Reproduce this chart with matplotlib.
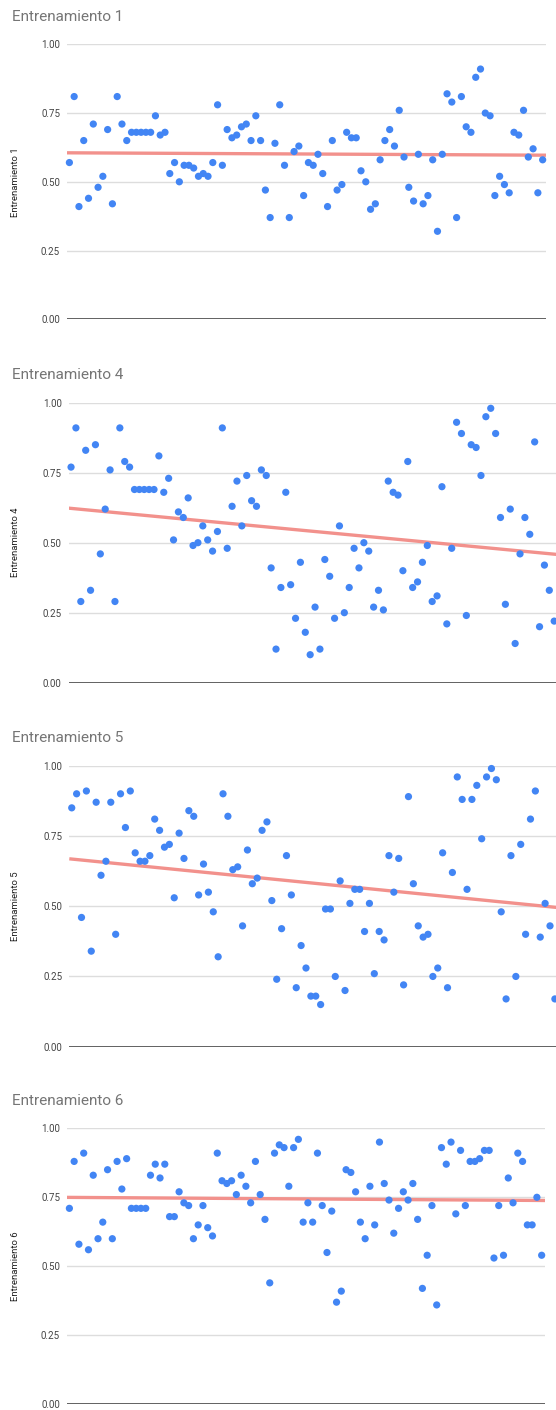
import numpy as np
import matplotlib
matplotlib.use("Agg")
import matplotlib.pyplot as plt

plt.rcParams['font.family'] = ['Roboto', 'DejaVu Sans']

# one reading per session, 100 sessions per training block
entrenamiento_1 = [
    0.57, 0.81, 0.41, 0.65, 0.44, 0.71, 0.48, 0.52, 0.69, 0.42,
    0.81, 0.71, 0.65, 0.68, 0.68, 0.68, 0.68, 0.68, 0.74, 0.67,
    0.68, 0.53, 0.57, 0.50, 0.56, 0.56, 0.55, 0.52, 0.53, 0.52,
    0.57, 0.78, 0.56, 0.69, 0.66, 0.67, 0.70, 0.71, 0.65, 0.74,
    0.65, 0.47, 0.37, 0.64, 0.78, 0.56, 0.37, 0.61, 0.63, 0.45,
    0.57, 0.56, 0.60, 0.53, 0.41, 0.65, 0.47, 0.49, 0.68, 0.66,
    0.66, 0.54, 0.50, 0.40, 0.42, 0.58, 0.65, 0.69, 0.63, 0.76,
    0.59, 0.48, 0.43, 0.60, 0.42, 0.45, 0.58, 0.32, 0.60, 0.82,
    0.79, 0.37, 0.81, 0.70, 0.68, 0.88, 0.91, 0.75, 0.74, 0.45,
    0.52, 0.49, 0.46, 0.68, 0.67, 0.76, 0.59, 0.62, 0.46, 0.58,
]
entrenamiento_4 = [
    0.77, 0.91, 0.29, 0.83, 0.33, 0.85, 0.46, 0.62, 0.76, 0.29,
    0.91, 0.79, 0.77, 0.69, 0.69, 0.69, 0.69, 0.69, 0.81, 0.68,
    0.73, 0.51, 0.61, 0.59, 0.66, 0.49, 0.50, 0.56, 0.51, 0.47,
    0.54, 0.91, 0.48, 0.63, 0.72, 0.56, 0.74, 0.65, 0.63, 0.76,
    0.74, 0.41, 0.12, 0.34, 0.68, 0.35, 0.23, 0.43, 0.18, 0.10,
    0.27, 0.12, 0.44, 0.38, 0.23, 0.56, 0.25, 0.34, 0.48, 0.41,
    0.50, 0.47, 0.27, 0.33, 0.26, 0.72, 0.68, 0.67, 0.40, 0.79,
    0.34, 0.36, 0.43, 0.49, 0.29, 0.31, 0.70, 0.21, 0.48, 0.93,
    0.89, 0.24, 0.85, 0.84, 0.74, 0.95, 0.98, 0.89, 0.59, 0.28,
    0.62, 0.14, 0.46, 0.59, 0.53, 0.86, 0.20, 0.42, 0.33, 0.22,
]
entrenamiento_5 = [
    0.85, 0.90, 0.46, 0.91, 0.34, 0.87, 0.61, 0.66, 0.87, 0.40,
    0.90, 0.78, 0.91, 0.69, 0.66, 0.66, 0.68, 0.81, 0.77, 0.71,
    0.72, 0.53, 0.76, 0.67, 0.84, 0.82, 0.54, 0.65, 0.55, 0.48,
    0.32, 0.90, 0.82, 0.63, 0.64, 0.43, 0.70, 0.58, 0.60, 0.77,
    0.80, 0.52, 0.24, 0.42, 0.68, 0.54, 0.21, 0.36, 0.28, 0.18,
    0.18, 0.15, 0.49, 0.49, 0.25, 0.59, 0.20, 0.51, 0.56, 0.56,
    0.41, 0.51, 0.26, 0.41, 0.38, 0.68, 0.55, 0.67, 0.22, 0.89,
    0.58, 0.43, 0.39, 0.40, 0.25, 0.28, 0.69, 0.21, 0.62, 0.96,
    0.88, 0.56, 0.88, 0.93, 0.74, 0.96, 0.99, 0.95, 0.48, 0.17,
    0.68, 0.25, 0.72, 0.40, 0.81, 0.91, 0.39, 0.51, 0.43, 0.17,
]
entrenamiento_6 = [
    0.71, 0.88, 0.58, 0.91, 0.56, 0.83, 0.60, 0.66, 0.85, 0.60,
    0.88, 0.78, 0.89, 0.71, 0.71, 0.71, 0.71, 0.83, 0.87, 0.82,
    0.87, 0.68, 0.68, 0.77, 0.73, 0.72, 0.60, 0.65, 0.72, 0.64,
    0.61, 0.91, 0.81, 0.80, 0.81, 0.76, 0.83, 0.79, 0.73, 0.88,
    0.76, 0.67, 0.44, 0.91, 0.94, 0.93, 0.79, 0.93, 0.96, 0.66,
    0.73, 0.66, 0.91, 0.72, 0.55, 0.70, 0.37, 0.41, 0.85, 0.84,
    0.77, 0.66, 0.60, 0.79, 0.65, 0.95, 0.80, 0.74, 0.62, 0.71,
    0.77, 0.74, 0.80, 0.67, 0.42, 0.54, 0.72, 0.36, 0.93, 0.87,
    0.95, 0.69, 0.92, 0.72, 0.88, 0.88, 0.89, 0.92, 0.92, 0.53,
    0.72, 0.54, 0.82, 0.73, 0.91, 0.88, 0.65, 0.65, 0.75, 0.54,
]

titles = ["Entrenamiento 1", "Entrenamiento 4", "Entrenamiento 5", "Entrenamiento 6"]
series = [entrenamiento_1, entrenamiento_4, entrenamiento_5, entrenamiento_6]
yticks = [0.0, 0.25, 0.5, 0.75, 1.0]

W, H = 556, 1410
# axes boxes in pixels: left, top (1.00 line), width, height
boxes = [
    (67.0, 44.3, 479.0, 275.0),
    (68.6, 402.7, 489.0, 280.0),
    (69.3, 765.7, 489.0, 281.0),
    (67.0, 1128.3, 478.0, 276.0),
]
title_y = [17, 375, 738, 1101]

BLUE = "#4285f4"
TREND = "#f2918c"

fig = plt.figure(figsize=(W / 100, H / 100), dpi=100)

for name, vals, (l, t, w, h), ty in zip(titles, series, boxes, title_y):
    y = np.array(vals)
    x = np.arange(1, len(y) + 1)
    ax = fig.add_axes([l / W, (H - t - h) / H, w / W, h / H])
    ax.set_xlim(0.5, 100.7)
    ax.set_ylim(0, 1)

    ax.set_yticks(yticks)
    ax.set_yticklabels([f"{v:.2f}" for v in yticks])
    ax.tick_params(axis="y", length=0, pad=5, labelsize=7, labelcolor="#444444")
    ax.set_xticks([])
    for s in ax.spines.values():
        s.set_visible(False)
    for v in yticks[1:]:
        ax.axhline(v, color="#dddddd", lw=1.0, zorder=0)
    ax.axhline(0, color="#555555", lw=1.3, zorder=1)

    # linear trend over the sessions
    m, b = np.polyfit(x, y, 1)
    xs = np.array(ax.get_xlim())
    ax.plot(xs, m * xs + b, color=TREND, lw=2.4, zorder=2, solid_capstyle="butt")

    ax.scatter(x, y, s=27, color=BLUE, edgecolors="none", zorder=3, clip_on=False)

    fig.text(12 / W, 1 - ty / H, name, fontsize=11, color="#757575",
             ha="left", va="center")
    fig.text(16 / W, 1 - (t + h / 2) / H, name, fontsize=6.8, color="#222222",
             rotation=90, ha="center", va="center")

fig.savefig("out.png", dpi=100, facecolor="white")
